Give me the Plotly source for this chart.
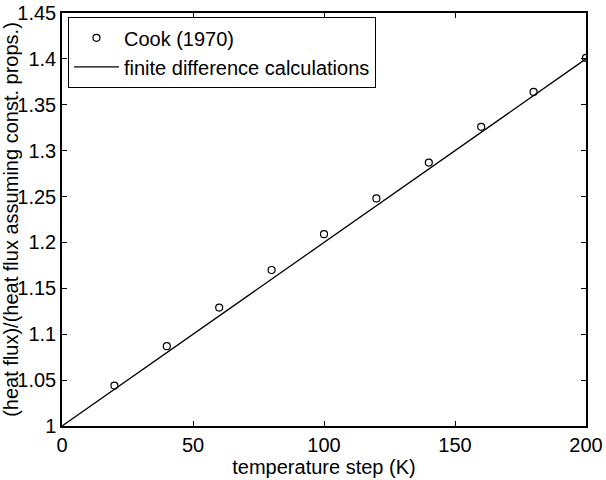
import plotly.graph_objects as go

# Data
cook_x = [20, 40, 60, 80, 100, 120, 140, 160, 180, 200]
cook_y = [1.044, 1.087, 1.129, 1.170, 1.209, 1.248, 1.287, 1.326, 1.364, 1.401]
fd_x = [0, 200]
fd_y = [1.0, 1.4]

x_ticks = [0, 50, 100, 150, 200]
y_ticks = [1, 1.05, 1.1, 1.15, 1.2, 1.25, 1.3, 1.35, 1.4, 1.45]
y_tick_labels = ["1", "1.05", "1.1", "1.15", "1.2", "1.25", "1.3", "1.35", "1.4", "1.45"]

FS = 20

fig = go.Figure()
fig.add_trace(go.Scatter(
    x=cook_x, y=cook_y, mode="markers", name="Cook (1970)",
    marker=dict(symbol="circle-open", size=7, color="black", line=dict(width=1.2)),
))
fig.add_trace(go.Scatter(
    x=fd_x, y=fd_y, mode="lines", name="finite difference calculations",
    line=dict(color="black", width=1.3),
))

axis_common = dict(
    showline=True, linecolor="black", linewidth=1.5, mirror="ticks",
    ticks="inside", ticklen=5, tickcolor="black", tickwidth=1,
    showgrid=False, zeroline=False, automargin=False,
    tickfont=dict(size=FS, color="black"),
)

fig.update_layout(
    width=606, height=480,
    margin=dict(l=62, r=20, t=13, b=54),
    paper_bgcolor="white", plot_bgcolor="white",
    font=dict(family="Liberation Sans, Arial, sans-serif", size=FS, color="black"),
    showlegend=True,
    legend=dict(
        x=0.011, y=0.99, xanchor="left", yanchor="top",
        bgcolor="white", bordercolor="black", borderwidth=1.2,
        font=dict(size=FS), tracegroupgap=0, itemwidth=45,
    ),
    xaxis=dict(
        range=[0, 200], tickvals=x_ticks,
        title=dict(text="temperature step (K)", standoff=0, font=dict(size=FS)),
        **axis_common,
    ),
    yaxis=dict(
        range=[1, 1.45], tickvals=y_ticks, ticktext=y_tick_labels,
        title=dict(text="(heat flux)/(heat flux assuming const. props.)", standoff=0, font=dict(size=FS)),
        **axis_common,
    ),
)

fig.write_html("out.html")
